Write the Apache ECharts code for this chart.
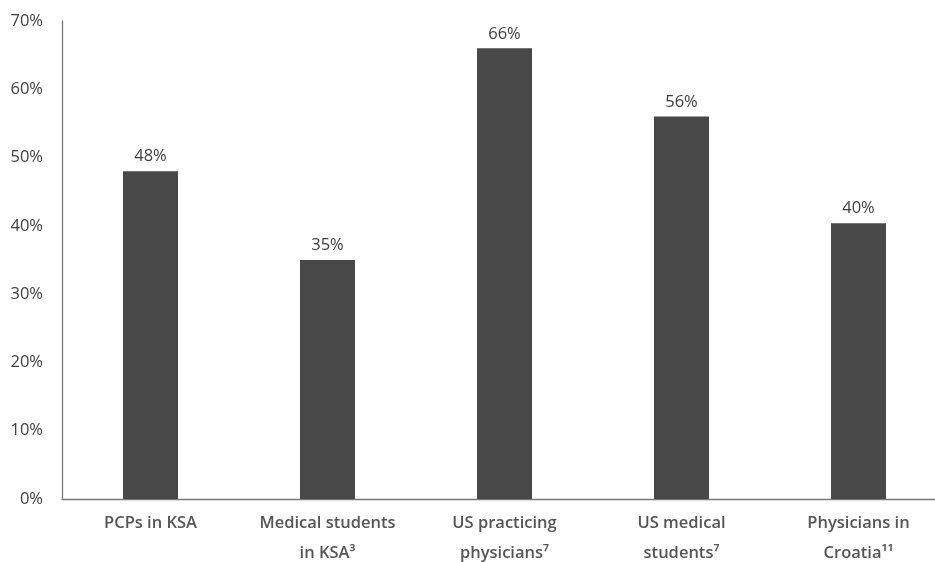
<!DOCTYPE html>
<html>
<head>
<meta charset="utf-8">
<script src="https://cdn.jsdelivr.net/npm/echarts@6/dist/echarts.min.js"></script>
<style>html,body{margin:0;padding:0;background:#fff;overflow:hidden}#c{width:935px;height:562px}</style>
</head>
<body>
<div id="c"></div>
<script>
var categories = ['PCPs in KSA', 'Medical students\nin KSA\u00B3', 'US practicing\nphysicians\u2077', 'US medical\nstudents\u2077', 'Physicians in\nCroatia\u00B9\u00B9'];
var values = [48, 35, 66, 56, 40.4];
var yTicks = [0, 10, 20, 30, 40, 50, 60, 70];

var chart = echarts.init(document.getElementById('c'), null, {renderer: 'canvas'});
chart.setOption({
  animation: false,
  grid: {left: 62, right: -12, top: 21, bottom: 63, containLabel: false, outerBoundsMode: 'none'},
  xAxis: {
    type: 'category',
    data: categories,
    axisLine: {lineStyle: {color: '#7a7a7a', width: 1.3}},
    axisTick: {show: false},
    axisLabel: {
      interval: 0,
      margin: 9,
      color: '#555555',
      fontFamily: 'Open Sans',
      fontWeight: 600,
      fontSize: 16.5,
      lineHeight: 30
    }
  },
  yAxis: {
    type: 'value',
    min: yTicks[0],
    max: yTicks[yTicks.length - 1],
    interval: 10,
    axisLine: {show: true, lineStyle: {color: '#7a7a7a', width: 1.3}},
    axisTick: {show: false},
    splitLine: {show: false},
    axisLabel: {
      margin: 19,
      color: '#404040',
      fontFamily: 'Open Sans',
      fontSize: 16.5,
      formatter: function (v) { return v + '%'; }
    }
  },
  series: [{
    type: 'bar',
    data: values,
    barWidth: 55,
    itemStyle: {color: '#474847'},
    label: {
      show: true,
      position: 'top',
      distance: 6,
      color: '#404040',
      fontFamily: 'Open Sans',
      fontSize: 16.5,
      formatter: function (p) { return Math.round(p.value) + '%'; }
    }
  }]
});
</script>
</body>
</html>
